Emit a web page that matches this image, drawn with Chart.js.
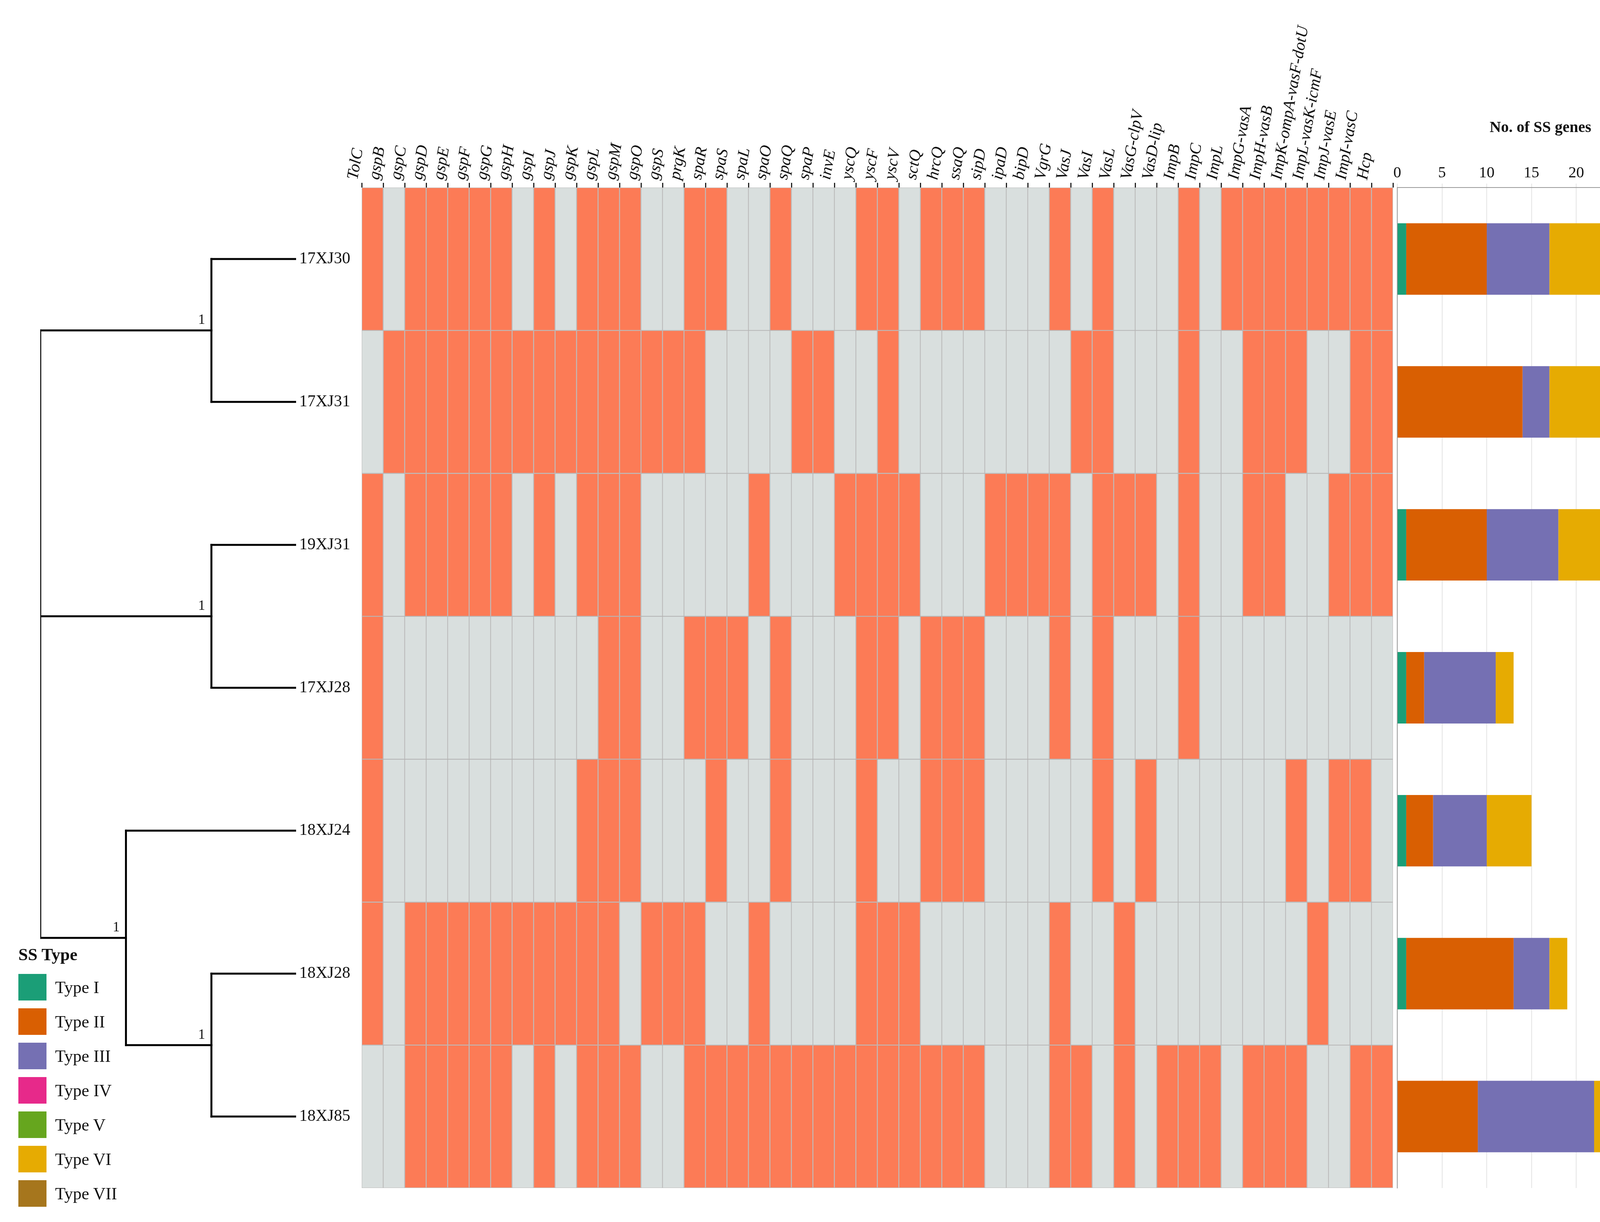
<!DOCTYPE html>
<html><head><meta charset="utf-8">
<script src="https://cdn.jsdelivr.net/npm/chart.js@4.4.1/dist/chart.umd.min.js"></script>
<style>
html,body{margin:0;padding:0;background:#fff;overflow:hidden;}
#wrap{position:relative;width:4354px;height:3128px;}
canvas{position:absolute;left:0;top:0;}
#legend{position:absolute;left:47px;top:2418px;font-family:"Liberation Serif",serif;font-size:44px;color:#111;}
#legend .t{font-weight:bold;margin-bottom:14px;}
#legend .i{display:flex;align-items:center;height:88px;}
#legend .b{width:72px;height:68px;margin-right:22px;}
</style></head><body>
<div id="wrap">
<canvas id="dend" width="4354" height="3128"></canvas>
<canvas id="heat" width="4354" height="3128"></canvas>
<canvas id="bars" width="4354" height="3128"></canvas>
<div id="legend"></div>
</div>
<script>
const genes = ["TolC","gspB","gspC","gspD","gspE","gspF","gspG","gspH","gspI","gspJ","gspK","gspL","gspM","gspO","gspS","prgK","spaR","spaS","spaL","spaO","spaQ","spaP","invE","yscQ","yscF","yscV","sctQ","hrcQ","ssaQ","sipD","ipaD","bipD","VgrG","VasJ","VasI","VasL","VasG-clpV","VasD-lip","ImpB","ImpC","ImpL","ImpG-vasA","ImpH-vasB","ImpK-ompA-vasF-dotU","ImpL-vasK-icmF","ImpJ-vasE","ImpI-vasC","Hcp"];
const strains = ["17XJ30","17XJ31","19XJ31","17XJ28","18XJ24","18XJ28","18XJ85"];
const presence = [
 "101111101011100110010001"+"101110001010001011111111",
 "011111111111111100001100"+"100000000110001001110011",
 "101111101011100000100011"+"110001111011101001100111",
 "100000000001100111010001"+"101110001010001000000000",
 "100000000011100010010001"+"001110000010100000010110",
 "101111111111011100100001"+"110000001001000000001000",
 "001111101011100111111111"+"111110001101011101110011"
];
const ssTypes = ["Type I","Type II","Type III","Type IV","Type V","Type VI","Type VII"];
const typeColors = ["#1B9E77","#D95F02","#7570B3","#E7298A","#66A61E","#E6AB02","#A6761D"];
const typeI   = [1,0,1,1,1,1,0];
const typeII  = [9,14,9,2,3,12,9];
const typeIII = [7,3,8,8,6,4,13];
const typeVI  = [10,8,9,2,5,2,10];
// dendrogram: nested clusters of leaf indices, with node depth (0 root .. 1 leaves)
const tree = {d:0, c:[{d:0.669,c:[0,1]},{d:0.669,c:[2,3]},{d:0.335,c:[4,{d:0.669,c:[5,6]}]}]};
const support = "1";

const W=4354,H=3128;
const HX0=926,HX1=3566,HY0=480,HY1=3041;
const ORANGE="#FC7B56",GREY="#D9DFDE";
const serif='"Liberation Serif", "DejaVu Serif", serif';

// ---- heatmap ----
new Chart(document.getElementById('heat'),{
 type:'bar',
 data:{labels:genes,datasets:strains.map((s,i)=>({label:s,data:genes.map(()=>1),
   backgroundColor:genes.map((g,j)=>presence[i][j]==='1'?ORANGE:GREY),
   borderColor:'rgba(130,130,130,0.5)',borderWidth:1.5,borderSkipped:false,
   barPercentage:1,categoryPercentage:1}))},
 options:{responsive:false,animation:false,
  layout:{padding:{left:HX0,right:W-HX1,top:HY0-440,bottom:H-HY1}},
  plugins:{legend:{display:false},tooltip:{enabled:false}},
  scales:{
   x:{stacked:true,position:'top',afterFit:s=>{s.height=440;},
      grid:{drawOnChartArea:false,drawTicks:true,tickLength:12,color:'#222',lineWidth:3},
      border:{display:false},
      ticks:{autoSkip:false,minRotation:80,maxRotation:80,padding:4,color:'#111',font:{family:serif,size:42,style:'italic'}}},
   y:{stacked:true,display:false,min:0,max:7,reverse:true}
  }}
});

// ---- dendrogram ----
const segs=[];const nodes=[];
function walk(n){
 if(typeof n==='number') return {y:n+0.5};
 const ys=n.c.map(ch=>{const r=walk(ch);const cd=(typeof ch==='number')?1:ch.d;segs.push([{x:n.d,y:r.y},{x:cd,y:r.y}]);return r.y;});
 const y0=Math.min(...ys),y1=Math.max(...ys);
 segs.push([{x:n.d,y:y0},{x:n.d,y:y1}]);
 if(n.d>0) nodes.push({x:n.d,y:(y0+y1)/2});
 return {y:(y0+y1)/2};
}
walk(tree);
new Chart(document.getElementById('dend'),{
 type:'scatter',
 data:{datasets:segs.map(s=>({data:s,showLine:true,borderColor:'#000',borderWidth:5,pointRadius:0,borderCapStyle:'square'}))},
 options:{responsive:false,animation:false,
  layout:{padding:{left:103,right:W-HX0,top:HY0,bottom:H-HY1}},
  plugins:{legend:{display:false},tooltip:{enabled:false}},
  scales:{
   x:{type:'linear',min:0,max:1,display:false},
   y:{type:'linear',min:0,max:7,reverse:true,position:'right',afterFit:s=>{s.width=HX0-758;},
      afterBuildTicks:s=>{s.ticks=strains.map((_,i)=>({value:i+0.5}));},
      grid:{display:false},border:{display:false},
      ticks:{padding:0,color:'#111',font:{family:serif,size:42},callback:(v)=>strains[Math.floor(v)]}}
  }},
 plugins:[{id:'support',afterDatasetsDraw(c){const ctx=c.ctx;ctx.save();ctx.font='36px '+serif;ctx.fillStyle='#111';ctx.textAlign='right';ctx.textBaseline='bottom';
   nodes.forEach(n=>{ctx.fillText(support,c.scales.x.getPixelForValue(n.x)-16,c.scales.y.getPixelForValue(n.y)-8);});ctx.restore();}}]
});

// ---- bars ----
const stacks=[typeI,typeII,typeIII,typeVI];const stackColors=[typeColors[0],typeColors[1],typeColors[2],typeColors[5]];
new Chart(document.getElementById('bars'),{
 type:'bar',
 data:{labels:strains,datasets:stacks.map((d,k)=>({label:ssTypes[[0,1,2,5][k]],data:d,backgroundColor:stackColors[k],barPercentage:0.5,categoryPercentage:1}))},
 options:{responsive:false,animation:false,indexAxis:'y',
  layout:{padding:{left:3577,right:44,top:HY0-180,bottom:H-HY1}},
  plugins:{legend:{display:false},tooltip:{enabled:false}},
  scales:{
   x:{stacked:true,position:'top',min:0,max:32,afterFit:s=>{s.height=180;},
      afterBuildTicks:s=>{s.ticks=[0,5,10,15,20,25,30].map(v=>({value:v}));},
      title:{display:true,text:'No. of SS genes',color:'#111',font:{family:serif,size:40,weight:'bold'},padding:{bottom:4}},
      grid:{color:'#E4E4E4',lineWidth:2,tickLength:10},border:{color:'#999',width:2},
      ticks:{color:'#111',font:{family:serif,size:40}}},
   y:{stacked:true,display:true,ticks:{display:false},grid:{display:false},border:{color:'#999',width:2},afterFit:s=>{s.width=0;}}
  }}
});

// ---- legend ----
const lg=document.getElementById('legend');
lg.innerHTML='<div class="t">SS Type</div>'+ssTypes.map((t,i)=>`<div class="i"><div class="b" style="background:${typeColors[i]}"></div>${t}</div>`).join('');
</script>
</body></html>
